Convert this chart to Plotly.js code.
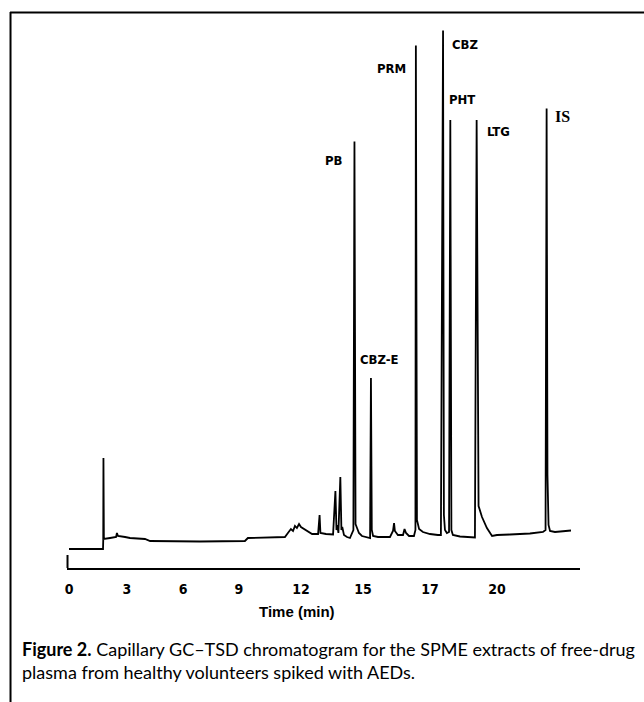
<!DOCTYPE html>
<html>
<head>
<meta charset="utf-8">
<script src="https://cdn.plot.ly/plotly-3.0.1.min.js"></script>
<style>html,body{margin:0;padding:0;background:#fff;}#chart{width:644px;height:702px;}</style>
</head>
<body>
<div id="chart"></div>
<script>
// Retention time (min) and detector response (arbitrary units)
const time = [0, 1.59, 1.60, 1.61, 1.63, 1.92, 2.20, 2.24, 2.29, 2.62, 2.85, 3.55, 3.79, 6.12, 8.22, 8.36, 9.16, 10.09,
  10.23, 10.37, 10.47, 10.56, 10.65, 10.75, 10.84, 10.98, 11.17, 11.36, 11.64, 11.71, 11.75, 12.01, 12.34,
  12.45, 12.50, 12.54, 12.59, 12.68, 12.73, 12.77, 12.85, 12.99, 13.13, 13.22, 13.29, 13.34, 13.39, 13.46,
  13.55, 13.69, 13.88, 14.07, 14.11, 14.15, 14.21, 14.44, 15.00, 15.14, 15.19, 15.23, 15.37, 15.61, 15.68,
  15.75, 15.89, 16.12, 16.19, 16.21, 16.26, 16.36, 16.54, 16.87, 17.24, 17.38, 17.48, 17.52, 17.57, 17.66,
  17.76, 17.82, 17.87, 17.94, 18.27, 18.64, 18.97, 19.05, 19.11, 19.14, 19.30, 19.53, 19.77, 20.00, 20.61,
  21.54, 22.15, 22.27, 22.32, 22.36, 22.41, 22.48, 22.71, 22.94, 23.46];
const response = [0, 0, 9, 91, 10, 11, 12, 16, 13, 12, 11, 10, 8, 7.5, 8, 11, 11.5, 12,
  16, 20, 18, 23, 21, 25, 22, 20, 17, 15, 15, 34, 16, 15, 14.5,
  58, 19, 24, 16, 72, 19, 22, 14, 12, 11, 16, 19, 407.5, 25, 21,
  16, 13, 12, 11, 171, 19, 13, 12, 12, 18, 26, 18, 14, 14, 20,
  16, 13, 13, 19, 503.5, 29, 20, 17, 15, 14, 14, 518.5, 34, 19, 16,
  17, 429, 19, 14, 12.5, 12, 11.5, 429, 87, 43, 32, 21, 13, 14, 14.5,
  15.5, 17, 19, 440.5, 74, 24, 18, 17, 17.5, 18.5];

// Peak labels
const peakNames = ["PB", "CBZ-E", "PRM", "CBZ", "PHT", "LTG", "IS"];
const peakLabelTime = [12.38, 14.53, 15.09, 18.50, 18.36, 20.05, 23.08];
const peakLabelResp = [389, 190, 481, 505, 450, 418, 433];

// Axis tick labels as printed
const tickLabels = ["0", "3", "6", "9", "12", "15", "17", "20"];
const tickTimes = [0, 2.71, 5.33, 7.94, 10.84, 13.74, 16.87, 20.0];

const xTitle = "Time (min)";
const captionBold = "Figure 2.";
const captionLine1 = " Capillary GC–TSD chromatogram for the SPME extracts of free-drug";
const captionLine2 = "plasma from healthy volunteers spiked with AEDs.";

const narrow = "'Liberation Sans Narrow', 'Arial Narrow', 'DejaVu Sans Condensed', 'Liberation Sans', sans-serif";

const annotations = peakNames.map((n, i) => ({
  x: peakLabelTime[i], y: peakLabelResp[i], xref: 'x', yref: 'y', text: '<b>' + n + '</b>',
  showarrow: false, xanchor: 'center', yanchor: 'middle',
  font: {family: n === 'IS' ? "'Liberation Serif', serif" : narrow, size: n === 'IS' ? 16 : 13, color: '#000'}
}));
annotations.push({x: 0.448, y: -0.0785, xref: 'paper', yref: 'paper', text: '<b>' + xTitle + '</b>',
  showarrow: false, xanchor: 'center', yanchor: 'middle', font: {family: "'Liberation Sans', Arial, sans-serif", size: 15, color: '#000'}});
annotations.push({x: -0.0916, y: -0.1478, xref: 'paper', yref: 'paper', text: '<b>' + captionBold + '</b>' + captionLine1,
  showarrow: false, xanchor: 'left', yanchor: 'middle', font: {family: "Lato, 'Open Sans', sans-serif", size: 18, color: '#000'}});
annotations.push({x: -0.0916, y: -0.1898, xref: 'paper', yref: 'paper', text: captionLine2,
  showarrow: false, xanchor: 'left', yanchor: 'middle', font: {family: "Lato, 'Open Sans', sans-serif", size: 18, color: '#000'}});

const trace = {x: time, y: response, type: 'scatter', mode: 'lines',
  line: {color: '#000', width: 1.8}, hoverinfo: 'skip'};

const layout = {
  width: 644, height: 702,
  margin: {l: 67, r: 64, t: 20, b: 134},
  paper_bgcolor: '#fff', plot_bgcolor: '#fff',
  showlegend: false,
  xaxis: {range: [-0.0935, 23.88], showgrid: false, zeroline: false, showline: true, linecolor: '#000', linewidth: 2,
    tickmode: 'array', tickvals: tickTimes, ticktext: tickLabels, ticks: '', ticklabelstandoff: 7,
    tickfont: {family: narrow, size: 14, color: '#000', weight: 'bold'}},
  yaxis: {range: [-19, 529], visible: false, showgrid: false, zeroline: false},
  annotations: annotations,
  shapes: [
    {type: 'line', xref: 'paper', yref: 'paper', x0: -0.111, x1: 1.13, y0: 1.0137, y1: 1.0137, line: {color: '#000', width: 2}},
    {type: 'line', xref: 'paper', yref: 'paper', x0: -0.1101, x1: -0.1101, y0: 1.0146, y1: -0.25, line: {color: '#000', width: 2}},
    {type: 'line', xref: 'paper', yref: 'paper', x0: 0.001, x1: 0.001, y0: 0, y1: 0.0237, line: {color: '#000', width: 2}}
  ]
};

Plotly.newPlot('chart', [trace], layout, {displayModeBar: false, staticPlot: true});
</script>
</body>
</html>
